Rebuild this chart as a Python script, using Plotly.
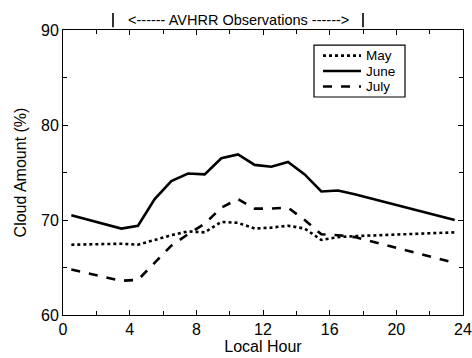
import plotly.graph_objects as go

# Mean diurnal cloud amount by local hour
hours = [0.5, 3.5, 4.5, 5.5, 6.5, 7.5, 8.5, 9.5, 10.5, 11.5, 12.5, 13.5, 14.5, 15.5, 16.5, 17.5, 23.5]
may = [67.4, 67.5, 67.4, 67.9, 68.4, 68.8, 68.7, 69.8, 69.7, 69.1, 69.2, 69.4, 69.1, 67.9, 68.2, 68.3, 68.7]
june = [70.5, 69.1, 69.4, 72.2, 74.1, 74.9, 74.8, 76.5, 76.9, 75.8, 75.6, 76.1, 74.8, 73.0, 73.1, 72.7, 70.0]
july = [64.8, 63.6, 63.7, 65.5, 67.3, 68.5, 69.6, 71.3, 72.2, 71.2, 71.2, 71.3, 70.0, 68.5, 68.4, 68.2, 65.5]

series = [("May", may, "dot"), ("June", june, "solid"), ("July", july, "dash")]

# Local-hour window covered by AVHRR overpasses
obs_start, obs_end = 3, 18

font = "Liberation Sans, Arial, Helvetica, sans-serif"
line_w = 2.6

fig = go.Figure()
for name, vals, dash in series:
    fig.add_trace(go.Scatter(
        x=hours, y=vals, name=name, mode="lines",
        line=dict(color="black", width=line_w, dash=dash),
    ))

axis_common = dict(
    showline=True, linecolor="black", linewidth=1, mirror="ticks",
    ticks="inside", tickcolor="black", ticklen=5, tickwidth=1,
    showgrid=False, zeroline=False, automargin=False,
    tickfont=dict(family=font, size=16, color="black"),
)

fig.update_xaxes(
    range=[0, 24], tickvals=[0, 4, 8, 12, 16, 20, 24],
    minor=dict(dtick=2, ticks="inside", ticklen=4, tickcolor="black"),
    title=dict(text="Local Hour", font=dict(family=font, size=16, color="black"), standoff=0),
    **axis_common,
)
fig.update_yaxes(
    range=[60, 90], tickvals=[60, 70, 80, 90],
    minor=dict(dtick=5, ticks="inside", ticklen=4, tickcolor="black"),
    title=dict(text="Cloud Amount (%)", font=dict(family=font, size=16, color="black"), standoff=10),
    **axis_common,
)

# Bracket marking the observation window above the plot
for xv in (obs_start, obs_end):
    fig.add_shape(type="line", xref="x", yref="paper", x0=xv, x1=xv, y0=1.01, y1=1.06,
                  line=dict(color="black", width=1.6))
fig.add_annotation(
    x=(obs_start + obs_end) / 2, xref="x", y=1.036, yref="paper", yanchor="middle",
    text="&lt;------ AVHRR Observations ------&gt;", showarrow=False,
    font=dict(family=font, size=14.5, color="black"),
)

# Compact boxed legend drawn in paper coordinates
fig.add_shape(type="rect", xref="paper", yref="paper", x0=0.6275, x1=0.855, y0=0.765, y1=0.947,
              line=dict(color="black", width=1.2), fillcolor="white", layer="above")
row_y = [0.910, 0.856, 0.802]
for (name, _, dash), ry in zip(series, row_y):
    fig.add_shape(type="line", xref="paper", yref="paper", x0=0.65, x1=0.745, y0=ry, y1=ry,
                  line=dict(color="black", width=line_w, dash=dash), layer="above")
    fig.add_annotation(x=0.755, y=ry, xref="paper", yref="paper", xanchor="left", yanchor="middle",
                       text=name, showarrow=False, borderpad=0,
                       font=dict(family=font, size=13.5, color="black"))

fig.update_layout(
    width=472, height=358,
    margin=dict(l=63, r=9, t=30, b=43),
    paper_bgcolor="white", plot_bgcolor="white",
    showlegend=False,
)

fig.write_html("out.html")
